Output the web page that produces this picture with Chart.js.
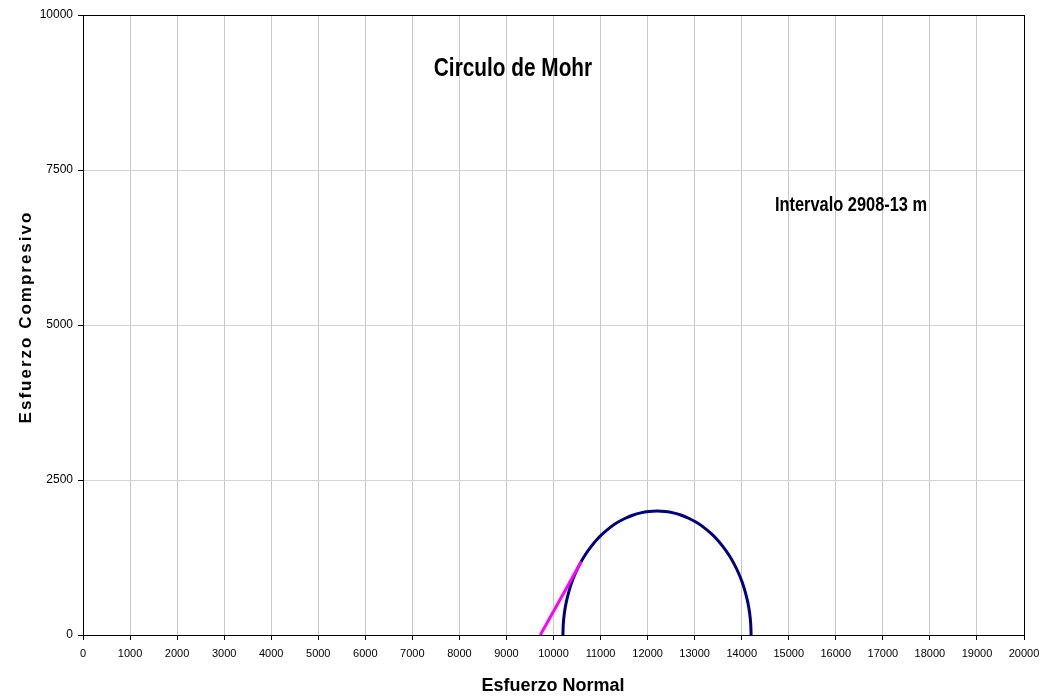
<!DOCTYPE html>
<html>
<head>
<meta charset="utf-8">
<script src="https://cdn.jsdelivr.net/npm/chart.js@4"></script>
<style>
	body { margin: 0; background: #fff; }
	canvas { display: block; }
</style>
</head>
<body>
<canvas id="graph" width="1043" height="700"></canvas>
<script>
// Mohr circle (semicircle) points
const circleX = [14200, 14192, 14170, 14132, 14079, 14013, 13932, 13838, 13732, 13614, 13486, 13347, 13200, 13045, 12884, 12718, 12547, 12374, 12200,
	12026, 11853, 11682, 11516, 11355, 11200, 11053, 10914, 10786, 10668, 10562, 10468, 10387, 10321, 10268, 10230, 10208, 10200];
const circleY = [0, 174, 347, 518, 684, 845, 1000, 1147, 1286, 1414, 1532, 1638, 1732, 1813, 1879, 1932, 1970, 1992, 2000,
	1992, 1970, 1932, 1879, 1813, 1732, 1638, 1532, 1414, 1286, 1147, 1000, 845, 684, 518, 347, 174, 0];
// failure envelope (magenta line)
const envelopeX = [9720, 10592];
const envelopeY = [0, 1185];

const chartTitle = "Circulo de Mohr";
const intervalLabel = "Intervalo 2908-13 m";
const xTitle = "Esfuerzo Normal";
const yTitle = "Esfuerzo Compresivo";

const tickFont = "'Liberation Sans', Arial, sans-serif";

const toPoints = (xs, ys) => xs.map((x, i) => ({ x: x, y: ys[i] }));

// frame + texts drawn on top of the chart
const decorations = {
	id: "decorations",
	afterDraw(chart) {
		const ctx = chart.ctx;
		const a = chart.chartArea;
		ctx.save();
		ctx.strokeStyle = "#000";
		ctx.lineWidth = 1;
		ctx.strokeRect(Math.round(a.left) + 0.5, Math.round(a.top) + 0.5,
			Math.round(a.right - a.left), Math.round(a.bottom - a.top));

		ctx.fillStyle = "#000";
		ctx.textAlign = "center";
		ctx.textBaseline = "middle";

		// compressed bold texts inside the plot
		ctx.save();
		ctx.translate(513, 69);
		ctx.scale(0.8, 1);
		ctx.font = "bold 26px 'Liberation Sans', Arial, sans-serif";
		ctx.fillText(chartTitle, 0, 0);
		ctx.restore();

		ctx.save();
		ctx.translate(851, 205);
		ctx.scale(0.82, 1);
		ctx.font = "bold 20px 'Liberation Sans', Arial, sans-serif";
		ctx.fillText(intervalLabel, 0, 0);
		ctx.restore();

		// axis titles
		ctx.font = "bold 18px 'Liberation Sans', Arial, sans-serif";
		ctx.fillText(xTitle, 553, 686);

		ctx.save();
		ctx.translate(26, 317);
		ctx.rotate(-Math.PI / 2);
		ctx.letterSpacing = "2px";
		ctx.font = "bold 17px 'Liberation Sans', Arial, sans-serif";
		ctx.fillText(yTitle, 0, 0);
		ctx.restore();

		ctx.restore();
	},
};

const ctx = document.getElementById("graph").getContext("2d");
const mohrChart = new Chart(ctx, {
	type: "scatter",
	data: {
		datasets: [
			{
				label: "Circulo",
				data: toPoints(circleX, circleY),
				showLine: true,
				borderColor: "#000080",
				borderWidth: 3,
				pointRadius: 0,
				tension: 0.2,
				order: 2,
			},
			{
				label: "Envolvente",
				data: toPoints(envelopeX, envelopeY),
				showLine: true,
				borderColor: "#ff00ff",
				borderWidth: 3,
				pointRadius: 0,
				order: 1,
			},
		],
	},
	options: {
		responsive: false,
		animation: false,
		devicePixelRatio: 1,
		layout: { autoPadding: false, padding: { left: 0, right: 19, top: 15, bottom: 0 } },
		plugins: {
			legend: { display: false },
			tooltip: { enabled: false },
		},
		scales: {
			x: {
				type: "linear",
				min: 0,
				max: 20000,
				ticks: {
					stepSize: 1000,
					color: "#000",
					padding: 7,
					maxRotation: 0,
					autoSkip: false,
					font: { family: tickFont, size: 11 },
					callback: (v) => String(v),
				},
				grid: {
					color: "#c8c8c8",
					tickColor: "#000",
					tickLength: 5,
				},
				border: { color: "#000", width: 1 },
				afterFit(scale) {
					scale.height = 65;
					scale.paddingLeft = 0;
					scale.paddingRight = 0;
				},
			},
			y: {
				type: "linear",
				min: 0,
				max: 10000,
				ticks: {
					stepSize: 2500,
					color: "#000",
					padding: 5,
					font: { family: tickFont, size: 12 },
					callback: (v) => String(v),
				},
				grid: {
					color: "#d4d4d4",
					tickColor: "#000",
					tickLength: 5,
				},
				border: { color: "#000", width: 1 },
				afterFit(scale) {
					scale.width = 83;
					scale.paddingTop = 0;
					scale.paddingBottom = 0;
				},
			},
		},
	},
	plugins: [decorations],
});
</script>
</body>
</html>
